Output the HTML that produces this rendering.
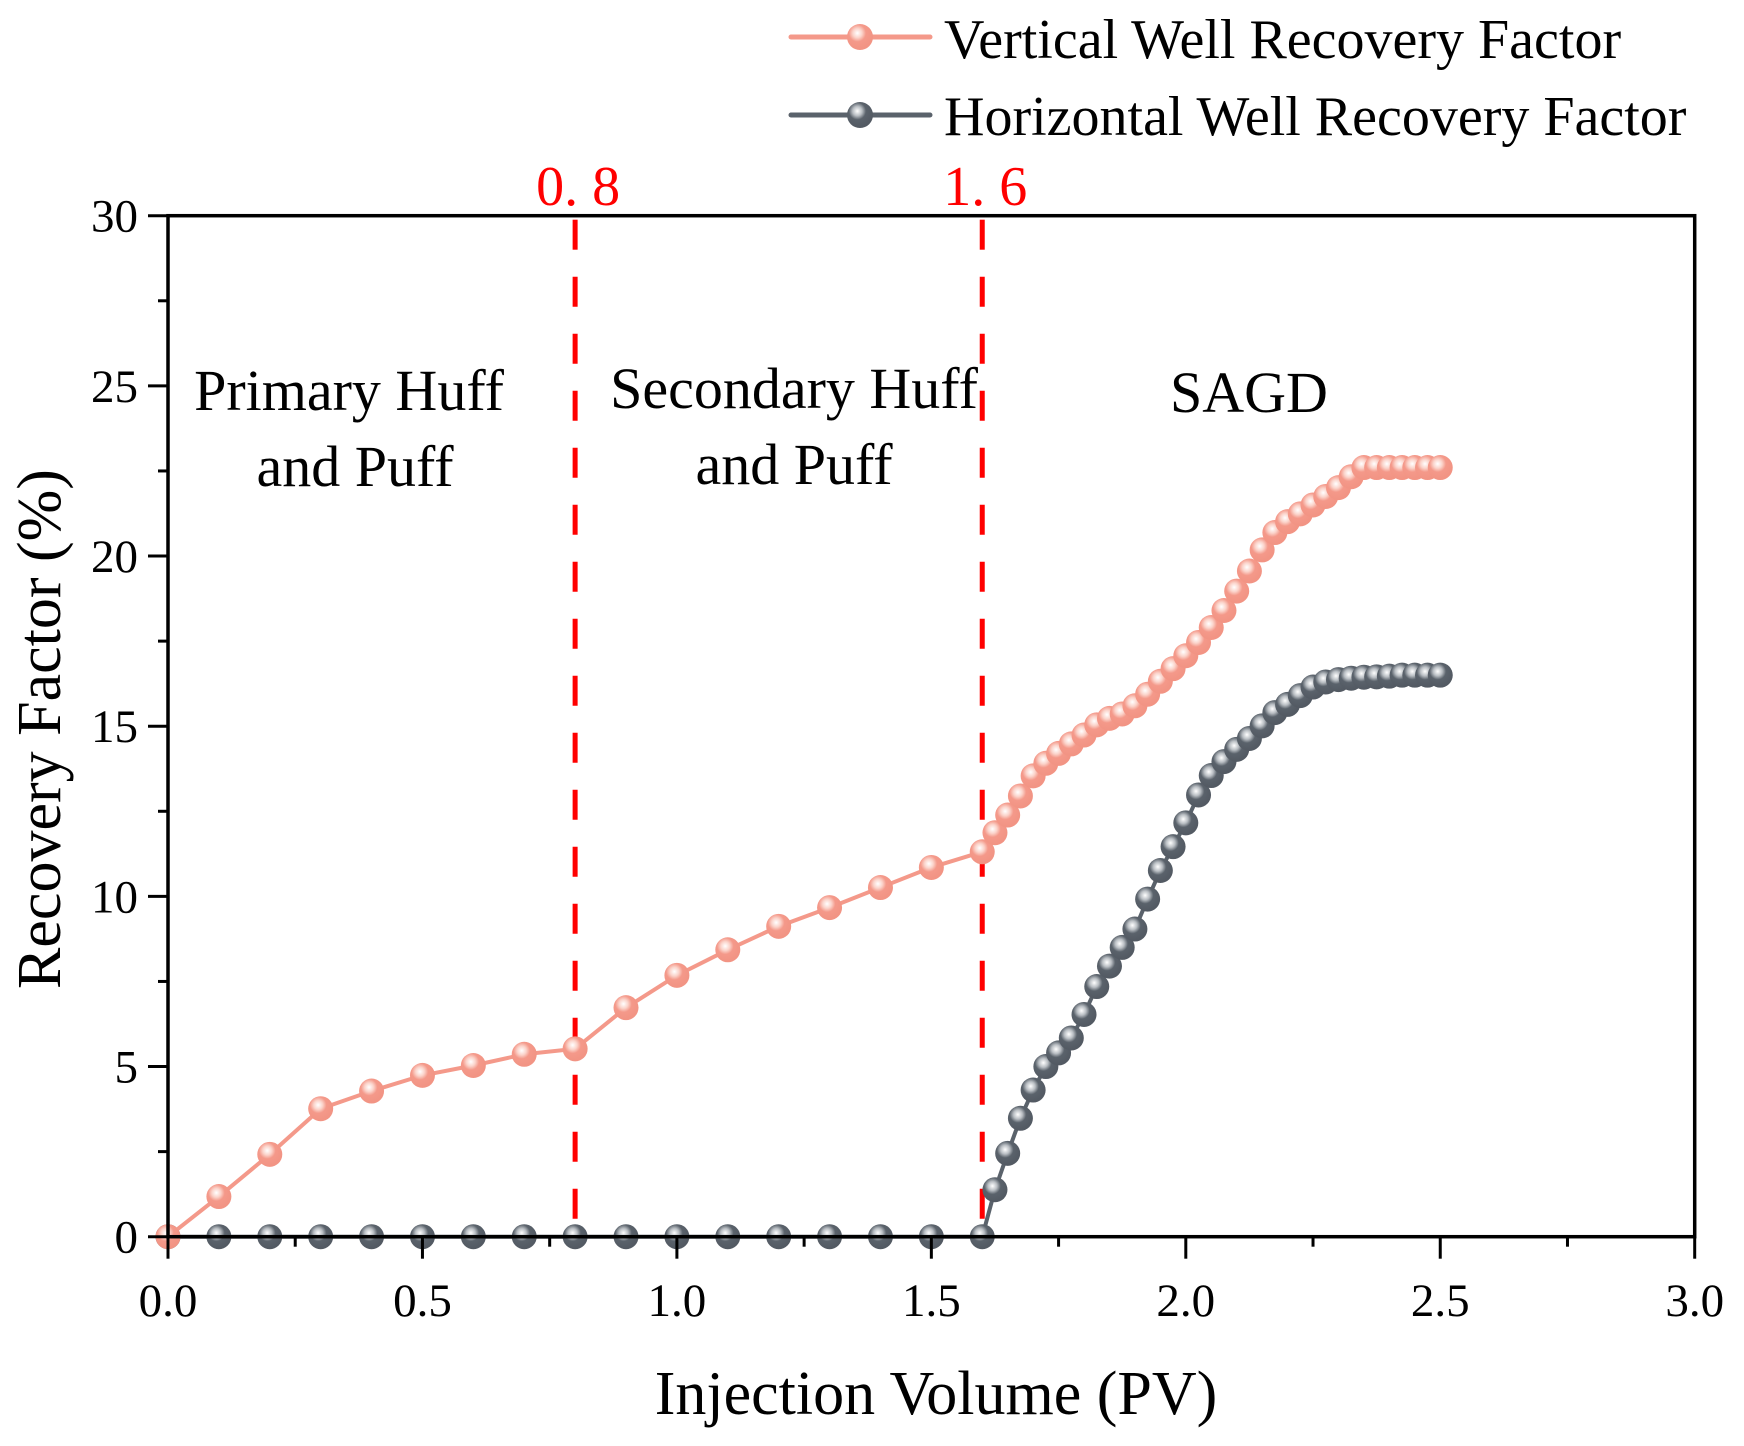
<!DOCTYPE html>
<html><head><meta charset="utf-8"><style>
html,body{margin:0;padding:0;background:#fff;}
svg{display:block;font-family:"Liberation Serif",serif;}
</style></head><body>
<svg id="chart" width="1744" height="1446" viewBox="0 0 1744 1446" xmlns="http://www.w3.org/2000/svg">
<defs>
<radialGradient id="gp" cx="0.4" cy="0.35" r="0.6">
<stop offset="0" stop-color="#ffffff"/><stop offset="0.3" stop-color="#fbd3ca"/><stop offset="0.55" stop-color="#f4998a"/><stop offset="1" stop-color="#f29484"/>
</radialGradient>
<radialGradient id="gd" cx="0.4" cy="0.35" r="0.6">
<stop offset="0" stop-color="#ffffff"/><stop offset="0.3" stop-color="#b9bec3"/><stop offset="0.55" stop-color="#5a626b"/><stop offset="1" stop-color="#535a63"/>
</radialGradient>
</defs>
<g id="plot"></g>
</svg>
<script>
const vertX = [0,0.1,0.2,0.3,0.4,0.5,0.6,0.7,0.8,0.9,1.0,1.1,1.2,1.3,1.4,1.5,1.6,1.625,1.65,1.675,1.7,1.725,1.75,1.775,1.8,1.825,1.85,1.875,1.9,1.925,1.95,1.975,2.0,2.025,2.05,2.075,2.1,2.125,2.15,2.175,2.2,2.225,2.25,2.275,2.3,2.325,2.35,2.375,2.4,2.425,2.45,2.475,2.5];
const vertY = [0,1.18,2.42,3.76,4.28,4.74,5.03,5.36,5.52,6.73,7.68,8.43,9.12,9.67,10.26,10.85,11.31,11.87,12.39,12.95,13.54,13.91,14.2,14.48,14.74,15.04,15.23,15.36,15.6,15.94,16.32,16.69,17.07,17.46,17.9,18.4,18.97,19.56,20.18,20.69,21.01,21.24,21.5,21.75,22.01,22.33,22.6,22.6,22.6,22.6,22.6,22.6,22.6];
const horX = vertX;
const horY = [0,0,0,0,0,0,0,0,0,0,0,0,0,0,0,0,0,1.38,2.45,3.48,4.31,5.0,5.4,5.84,6.53,7.35,7.95,8.5,9.04,9.92,10.76,11.46,12.16,12.98,13.55,13.96,14.32,14.64,15.01,15.4,15.64,15.9,16.15,16.3,16.37,16.41,16.44,16.45,16.47,16.5,16.5,16.5,16.5];
const xTicks = ["0.0","0.5","1.0","1.5","2.0","2.5","3.0"];
const yTicks = ["0","5","10","15","20","25","30"];
const phaseLines = [0.8,1.6];
const phaseLabels = ["0. 8","1. 6"];

const L=168,R=1694.7,T=215.7,B=1236.7;
const sx=v=>L+(v-0)/3*(R-L);
const sy=v=>B-(v/30)*(B-T);
const NS="http://www.w3.org/2000/svg";
const g=document.getElementById('plot');
function mk(tag,attrs,parent){const e=document.createElementNS(NS,tag);for(const k in attrs)e.setAttribute(k,attrs[k]);(parent||g).appendChild(e);return e;}

phaseLines.forEach((p,i)=>{
  const l=mk('line',{x1:sx(p),x2:sx(p),y1:T+4,y2:B,stroke:'#ff0000','stroke-width':5,'stroke-dasharray':'30 27'});
  
  
  const t=mk('text',{x:sx(p)+3,y:205,'font-size':56,fill:'#ff0000','text-anchor':'middle'});
  t.textContent=phaseLabels[i];
  
  
});

[["Primary Huff",349,410],["and Puff",355,486],["Secondary Huff",794,408],["and Puff",794,484],["SAGD",1249,412]].forEach(r=>{
  const t=mk('text',{x:r[1],y:r[2],'font-size':58,fill:'#000','text-anchor':'middle'});
  t.textContent=r[0];
  
  
});

function series(xs,ys,color,grad,name){
  const sg=mk('g',{});
  
  
  const pts=xs.map((x,i)=>sx(x)+','+sy(ys[i])).join(' ');
  mk('polyline',{points:pts,fill:'none',stroke:color,'stroke-width':4},sg);
  xs.forEach((x,i)=>{
    const c=mk('circle',{cx:sx(x),cy:sy(ys[i]),r:12.5,fill:'url(#'+grad+')'},sg);
    
    
  });
}
series(horX,horY,'#5a626b','gd','horizontal-well-series');
series(vertX,vertY,'#f4998a','gp','vertical-well-series');

const fr=mk('rect',{x:L,y:T,width:R-L,height:B-T,fill:'none',stroke:'#000','stroke-width':3.5});



for(let i=0;i<=12;i++){
  const v=i*0.25;const major=i%2==0;
  mk('line',{x1:sx(v),x2:sx(v),y1:B,y2:B+(major?22:10),stroke:'#000','stroke-width':3});
}
xTicks.forEach((s,i)=>{
  const t=mk('text',{x:sx(parseFloat(s)),y:1316,'font-size':47,'text-anchor':'middle'});
  t.textContent=s;
  
  
});
for(let i=0;i<=12;i++){
  const v=i*2.5;const major=i%2==0;
  mk('line',{x1:L-(major?20:10),x2:L,y1:sy(v),y2:sy(v),stroke:'#000','stroke-width':3});
}
yTicks.forEach(s=>{
  const t=mk('text',{x:138,y:sy(parseFloat(s))+16,'font-size':47,'text-anchor':'end'});
  t.textContent=s;
  
  
});

const xt=mk('text',{x:936,y:1414,'font-size':62,'text-anchor':'middle'});
xt.textContent='Injection Volume (PV)';


const yt=mk('text',{x:0,y:0,'font-size':62,'text-anchor':'middle',transform:'translate(60,729) rotate(-90)'});
yt.textContent='Recovery Factor (%)';



[["Vertical Well Recovery Factor",'#f4998a','gp',37,58],["Horizontal Well Recovery Factor",'#5a626b','gd',115,135]].forEach(e=>{
  const lg=mk('g',{});
  
  
  mk('line',{x1:791,x2:930,y1:e[3],y2:e[3],stroke:e[1],'stroke-width':5,'stroke-linecap':'round'},lg);
  mk('circle',{cx:860,cy:e[3],r:13,fill:'url(#'+e[2]+')'},lg);
  const t=mk('text',{x:944,y:e[4],'font-size':56},lg);
  t.textContent=e[0];
});
</script>
</body></html>
